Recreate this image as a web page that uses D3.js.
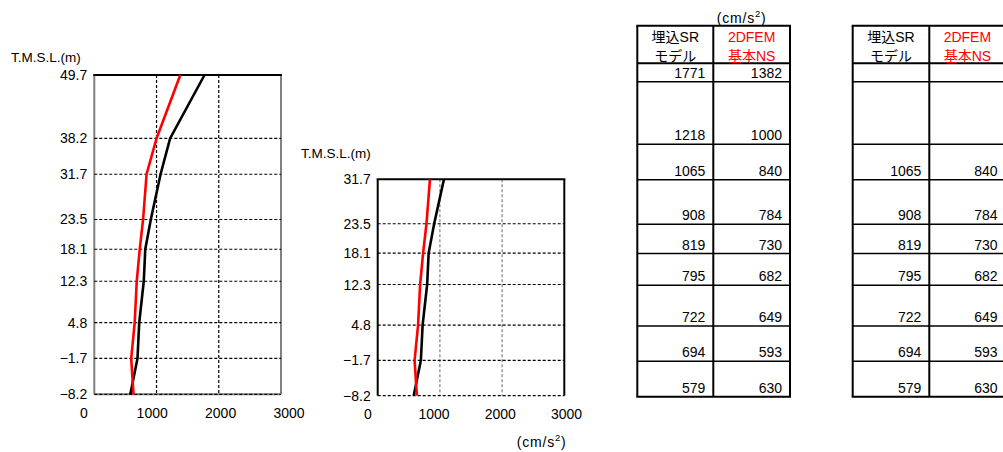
<!DOCTYPE html>
<html>
<head>
<meta charset="utf-8">
<script src="https://cdn.jsdelivr.net/npm/d3@7"></script>
<style>
  html, body { margin: 0; padding: 0; background: #fff; }
  svg { display: block; }
  text { font-family: "Liberation Sans", "Noto Sans CJK JP", sans-serif; }
</style>
</head>
<body>
<svg id="chart" width="1003" height="452"></svg>
<script>
// ---- data ----
const elevations = [49.7, 38.2, 31.7, 23.5, 18.1, 12.3, 4.8, -1.7, -8.2];
const srModel    = [1771, 1218, 1065, 908, 819, 795, 722, 694, 579];   // 埋込SRモデル (black)
const fem2d      = [1382, 1000, 840, 784, 730, 682, 649, 593, 630];    // 2DFEM 基本NS (red)
const xTicks     = [0, 1000, 2000, 3000];
const headerCol1 = ["埋込SR", "モデル"];
const headerCol2 = ["2DFEM", "基本NS"];
const subsetTop  = 31.7;  // second chart / second table start elevation

const svg = d3.select("#chart");
const FONT = 14;

function chart(opts) {
  const g = svg.append("g");
  const els = elevations.filter(e => e <= opts.topElev);
  const x = d3.scaleLinear().domain([0, 3000]).range([opts.x0, opts.x1]);
  const y = d3.scaleLinear().domain([opts.topElev, -8.2]).range([opts.y0, opts.y1]);
  const xl = d3.scaleLinear().domain([0, 3000]).range(opts.labelRange);

  // vertical grid
  g.selectAll(".vg").data([1000, 2000]).join("line")
    .attr("x1", d => x(d)).attr("x2", d => x(d))
    .attr("y1", opts.y0).attr("y2", opts.y1)
    .attr("stroke", opts.vgColor).attr("stroke-width", 1.2)
    .attr("stroke-dasharray", "3,2");

  // frame
  g.append("line").attr("x1", x(0)).attr("x2", x(0)).attr("y1", opts.y0).attr("y2", opts.y1)
    .attr("stroke", opts.sideColor).attr("stroke-width", 2);
  g.append("line").attr("x1", x(3000)).attr("x2", x(3000)).attr("y1", opts.y0).attr("y2", opts.y1)
    .attr("stroke", opts.sideColor).attr("stroke-width", 2);
  if (opts.bottomColor) {
    g.append("line").attr("x1", x(0)).attr("x2", x(3000)).attr("y1", opts.y1).attr("y2", opts.y1)
      .attr("stroke", opts.bottomColor).attr("stroke-width", 2);
  }
  g.append("line").attr("x1", x(0) - 1).attr("x2", x(3000) + 1).attr("y1", opts.y0).attr("y2", opts.y0)
    .attr("stroke", "#000").attr("stroke-width", 2);

  // horizontal grid
  g.selectAll(".hg").data(els.filter(e => e !== opts.topElev)).join("line")
    .attr("x1", x(0)).attr("x2", x(3000))
    .attr("y1", d => y(d)).attr("y2", d => y(d))
    .attr("stroke", "#000").attr("stroke-width", 1.2)
    .attr("stroke-dasharray", "3,2");

  // series
  const line = d3.line().x(d => x(d[0])).y(d => y(d[1]));
  const idx = elevations.map((e, i) => i).filter(i => elevations[i] <= opts.topElev);
  g.append("path").datum(idx.map(i => [srModel[i], elevations[i]]))
    .attr("d", line).attr("fill", "none").attr("stroke", "#000").attr("stroke-width", 2.6);
  g.append("path").datum(idx.map(i => [fem2d[i], elevations[i]]))
    .attr("d", line).attr("fill", "none").attr("stroke", "#ff0000").attr("stroke-width", 2.6);

  // y axis
  const ya = g.append("g").attr("transform", `translate(${x(0)},0)`)
    .call(d3.axisLeft(y).tickValues(els).tickFormat(d3.format(".1f")).tickSize(0).tickPadding(7));
  ya.select(".domain").remove();
  ya.selectAll("text").attr("font-size", FONT).attr("fill", "#000")
    .style("font-family", '"Liberation Sans", sans-serif');

  // x axis labels
  const xa = g.append("g").attr("transform", `translate(0,${opts.labelY})`)
    .call(d3.axisBottom(xl).tickValues(xTicks).tickFormat(d3.format("d")).tickSize(0).tickPadding(0));
  xa.select(".domain").remove();
  xa.selectAll("text").attr("font-size", FONT).attr("fill", "#000")
    .style("font-family", '"Liberation Sans", sans-serif');

  // T.M.S.L.
  g.append("text").attr("x", opts.titleX).attr("y", opts.titleY)
    .attr("font-size", 13.5).text("T.M.S.L.(m)");
}

chart({ topElev: 49.7, x0: 94.3, x1: 281, y0: 75, y1: 394.3,
        labelRange: [83.3, 288.5], labelY: 408.5, vgColor: "#000",
        sideColor: "#808080", bottomColor: "#808080",
        titleX: 11, titleY: 61.5 });
chart({ topElev: subsetTop, x0: 377.7, x1: 564.3, y0: 179.3, y1: 395.7,
        labelRange: [367.3, 566], labelY: 409.5, vgColor: "#808080",
        sideColor: "#000", bottomColor: null,
        titleX: 301, titleY: 158 });

// unit labels
function unit(cx, cy) {
  const t = svg.append("text").attr("x", cx).attr("y", cy).attr("text-anchor", "middle")
    .attr("font-size", 14).attr("letter-spacing", 0.8);
  t.append("tspan").text("(cm/s");
  t.append("tspan").attr("font-size", 9.5).attr("dy", -6).text("2");
  t.append("tspan").attr("dy", 6).text(")");
}
unit(541.7, 447);
unit(741.7, 23);

// ---- tables ----
const ty = d3.scaleLinear().domain([49.7, -8.2]).range([81.7, 396.7]);
function table(left, mid, right, showFrom) {
  const g = svg.append("g");
  const top = 25.7, headBottom = 63.3, bottom = ty(-8.2);
  // row lines
  g.selectAll(".rl").data(elevations.slice(0, -1)).join("line")
    .attr("x1", left).attr("x2", right).attr("y1", d => ty(d)).attr("y2", d => ty(d))
    .attr("stroke", "#000").attr("stroke-width", 1.5);
  g.append("line").attr("x1", left).attr("x2", right).attr("y1", headBottom).attr("y2", headBottom)
    .attr("stroke", "#000").attr("stroke-width", 2);
  // vertical lines
  g.selectAll(".cl").data([left, mid, right]).join("line")
    .attr("x1", d => d).attr("x2", d => d).attr("y1", top).attr("y2", bottom)
    .attr("stroke", "#000").attr("stroke-width", 2);
  g.append("line").attr("x1", left - 1).attr("x2", right + 1).attr("y1", top).attr("y2", top)
    .attr("stroke", "#000").attr("stroke-width", 2);
  g.append("line").attr("x1", left - 1).attr("x2", right + 1).attr("y1", bottom).attr("y2", bottom)
    .attr("stroke", "#000").attr("stroke-width", 2);
  // headers
  [[headerCol1, (left + mid) / 2, "#000"], [headerCol2, (mid + right) / 2, "#ff0000"]].forEach(([lines, cx, col]) => {
    lines.forEach((s, i) => {
      g.append("text").attr("x", cx).attr("y", 42 + i * 18.5).attr("text-anchor", "middle")
        .attr("font-size", 14).attr("fill", col)
        .style("font-family", '"Liberation Sans", "Noto Sans CJK JP", sans-serif').text(s);
    });
  });
  // values
  elevations.forEach((e, i) => {
    if (e > showFrom) return;
    g.append("text").attr("x", mid - 8).attr("y", ty(e) - 4).attr("text-anchor", "end")
      .attr("font-size", FONT).text(srModel[i]);
    g.append("text").attr("x", right - 8).attr("y", ty(e) - 4).attr("text-anchor", "end")
      .attr("font-size", FONT).text(fem2d[i]);
  });
}
table(637.3, 713.3, 790, 49.7);
table(852.7, 929.3, 1005.5, subsetTop);
</script>
</body>
</html>
